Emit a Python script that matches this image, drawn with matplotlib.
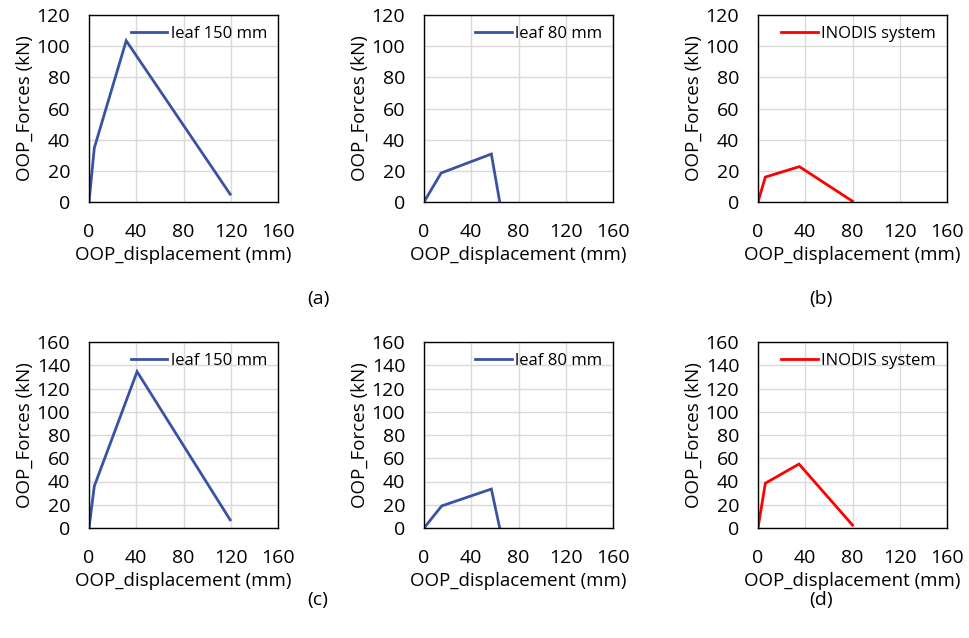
import matplotlib
matplotlib.use("Agg")
import matplotlib.pyplot as plt

plt.rcParams['font.family'] = ['Open Sans', 'DejaVu Sans']

# ---- data ----
a1_x = [0, 4.5, 31.5, 119.5]
a1_y = [0, 34.7, 103.5, 5]
a2_x = [0, 14.5, 57, 64]
a2_y = [0, 18.6, 30.8, 0.5]
a3_x = [0, 6.2, 35, 80]
a3_y = [0, 16, 22.7, 0.5]

b1_x = [0, 4.5, 40.7, 119.5]
b1_y = [0, 36, 134.5, 7]
b2_x = [0, 15, 57, 64]
b2_y = [0, 19, 33.5, 0.5]
b3_x = [0, 6.2, 34.7, 80]
b3_y = [0, 38.5, 55, 2.5]

labels = ["leaf 150 mm", "leaf 80 mm", "INODIS system"]
xticks = [0, 40, 80, 120, 160]
yticks_top = [0, 20, 40, 60, 80, 100, 120]
yticks_bot = [0, 20, 40, 60, 80, 100, 120, 140, 160]
panel_tags = ["(a)", "(b)", "(c)", "(d)"]

blue = "#3953A4"
red = "#FF0000"

W, H = 969, 638
fig = plt.figure(figsize=(W / 100, H / 100), dpi=100)

lefts = [89, 424, 758]
rows = [(15, 202, yticks_top), (342, 528, yticks_bot)]
series = [[(a1_x, a1_y), (a2_x, a2_y), (a3_x, a3_y)],
          [(b1_x, b1_y), (b2_x, b2_y), (b3_x, b3_y)]]
colors = [blue, blue, red]

for r, (top, bot, yt) in enumerate(rows):
    for c, left in enumerate(lefts):
        ax = fig.add_axes([left / W, (H - bot) / H, 189 / W, (bot - top) / H])
        x, y = series[r][c]
        ax.plot(x, y, color=colors[c], lw=2.0, label=labels[c], solid_joinstyle='miter')
        ax.set_xlim(0, 160)
        ax.set_ylim(yt[0], yt[-1])
        ax.set_xticks(xticks)
        ax.set_yticks(yt)
        ax.grid(True, color="#D9D9D9", lw=1.0)
        ax.set_axisbelow(True)
        for s in ax.spines.values():
            s.set_color("black")
            s.set_linewidth(1.0)
        ax.tick_params(axis='both', length=0, labelsize=14)
        ax.tick_params(axis='x', pad=15)
        ax.tick_params(axis='y', pad=13.5)
        ax.set_xlabel("OOP_displacement (mm)", fontsize=13.5, labelpad=4)
        ax.set_ylabel("OOP_Forces (kN)", fontsize=13.5, labelpad=2)
        ax.legend(loc="upper right", frameon=False, fontsize=12,
                  handlelength=2.2, handletextpad=0.2, borderaxespad=0.25)

fig.text(318 / W, 1 - 299 / H, panel_tags[0], ha="center", va="center", fontsize=14)
fig.text(821 / W, 1 - 299 / H, panel_tags[1], ha="center", va="center", fontsize=14)
fig.text(318 / W, 1 - 600 / H, panel_tags[2], ha="center", va="center", fontsize=14)
fig.text(821 / W, 1 - 600 / H, panel_tags[3], ha="center", va="center", fontsize=14)

fig.savefig("out.png", dpi=100, facecolor="white")
